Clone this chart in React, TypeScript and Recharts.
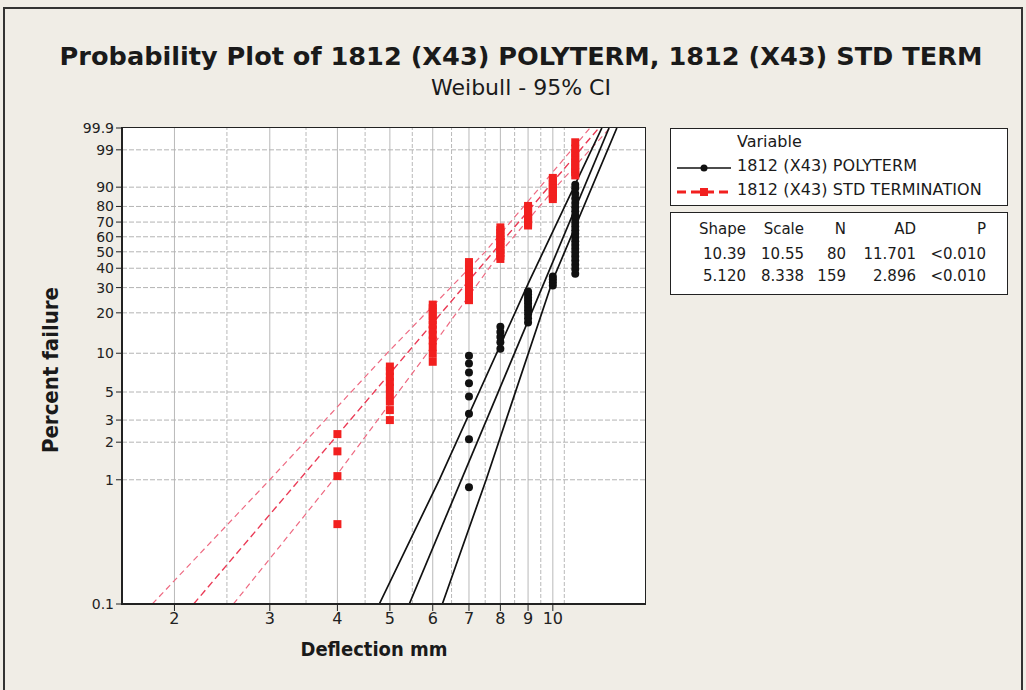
import React from 'react';
import { ComposedChart, Line, Scatter, XAxis, YAxis, ReferenceLine } from 'recharts';

// percent failure -> position on the Weibull probability axis
const weib = (p: number) => Math.log(-Math.log(1 - p / 100));

const yTicks = [0.1, 1, 2, 3, 5, 10, 20, 30, 40, 50, 60, 70, 80, 90, 99, 99.9];
const yGrid = [1, 2, 3, 5, 10, 20, 30, 40, 50, 60, 70, 80, 90, 99];
const xTicks = [2, 3, 4, 5, 6, 7, 8, 9, 10];
const xGrid = [2, 2.5, 3, 3.5, 4, 4.5, 5, 5.5, 6, 6.5, 7, 7.5, 8, 8.5, 9, 9.5, 10, 10.5];

// 1812 (X43) STD TERMINATION, percent failure at each deflection (mm)
const std4 = [0.44, 1.07, 1.69, 2.32];
const std5 = [3.0, 3.6, 4.2, 4.8, 5.4, 6.0, 6.6, 7.3, 7.9];
const std6 = [8.6, 9.9, 11.2, 12.5, 13.8, 15.1, 16.4, 17.7, 19.0, 20.3, 21.6, 22.9];
const std7 = [24.6, 26.5, 28.4, 30.3, 32.2, 34.1, 36.0, 37.9, 39.8, 41.7, 43.6];
const std8 = [45.5, 47.4, 49.3, 51.2, 53.1, 55.0, 56.9, 58.8, 60.7, 62.6, 64.5, 66.4];
const std9 = [67.7, 69.0, 70.3, 71.5, 72.8, 74.1, 75.3, 76.6, 77.8, 79.1, 80.3];
const std10 = [84.2, 85.5, 86.8, 88.0, 89.2, 90.3, 91.4, 92.5, 93.5];
const std11 = [94.3, 95.2, 96.1, 96.9, 97.6, 98.2, 98.7, 99.1, 99.5];

// 1812 (X43) POLYTERM
const poly7 = [0.87, 2.11, 3.36, 4.6, 5.85, 7.09, 8.33, 9.58];
const poly8 = [10.8, 12.1, 13.3, 14.5, 15.8];
const poly9 = [17.0, 18.3, 19.5, 20.8, 22.0, 23.3, 24.5, 25.7, 27.0, 28.2];
const poly10 = [31.0, 32.5, 34.0, 35.5];
const poly11 = [37, 39.5, 42, 44.5, 47, 49.5, 52, 54.5, 57, 59.5, 62, 64.5, 67, 69.5, 72, 74.5, 77, 79.5, 82, 84.5, 87, 89.5, 91];

// fitted lines and 95% CI bounds
const fitPct = [0.1, 99.9];
const polyFitX = [5.43, 12.7];
const stdFitX = [2.17, 12.16];
const polyCiPct = [0.1, 1, 33.7, 99.9];
const polyCiLowX = [4.78, 6.17, 9.07, 12.32];
const polyCiHighX = [6.25, 7.53, 10.0, 13.13];
const stdCiPct = [0.1, 1, 10, 50, 90, 99.9];
const stdCiLowX = [1.82, 3.0, 4.94, 7.5, 9.47, 11.71];
const stdCiHighX = [2.57, 3.93, 5.86, 8.02, 10.13, 12.75];

const column = (x: number, pcts: number[]) => pcts.map((p) => ({ x, y: weib(p) }));
const curve = (xs: number[], pcts: number[]) => xs.map((x, i) => ({ x, y: weib(pcts[i]) }));

const stdPoints = [
  ...column(4, std4), ...column(5, std5), ...column(6, std6), ...column(7, std7),
  ...column(8, std8), ...column(9, std9), ...column(10, std10), ...column(11, std11),
];
const polyPoints = [
  ...column(7, poly7), ...column(8, poly8), ...column(9, poly9), ...column(10, poly10), ...column(11, poly11),
];

const FONT = "'DejaVu Sans', Tahoma, sans-serif";
const BOLD_NARROW = "'DejaVu Sans Condensed', 'DejaVu Sans', sans-serif";
const RED = '#f2201f';

const yLabel = (v: number) => {
  const hit = yTicks.find((p) => Math.abs(weib(p) - v) < 1e-6);
  return hit === undefined ? '' : String(hit);
};

const StdSquare = (props: any) => (
  <rect x={props.cx - 4} y={props.cy - 4} width={8} height={8} fill={RED} />
);
const PolyDot = (props: any) => <circle cx={props.cx} cy={props.cy} r={4} fill="#111" />;

const cell = (end: number, top: number, text: string) => (
  <div
    key={`${end}-${top}`}
    style={{ position: 'absolute', left: end - 110, top, width: 110, textAlign: 'right' }}
  >
    {text}
  </div>
);

export default function App() {
  return (
    <div
      style={{
        position: 'absolute', left: 0, top: 0, width: 1026, height: 690, overflow: 'hidden',
        background: '#f0ede6', fontFamily: FONT, color: '#1a1a1a',
      }}
    >
      <div style={{ position: 'absolute', left: 3, top: 7, width: 1016, height: 700, border: '2px solid #333' }} />

      <div style={{ position: 'absolute', left: 0, top: 41, width: 1042, textAlign: 'center', fontSize: 25.6, fontWeight: 'bold' }}>
        Probability Plot of 1812 (X43) POLYTERM, 1812 (X43) STD TERM
      </div>
      <div style={{ position: 'absolute', left: 0, top: 75, width: 1042, textAlign: 'center', fontSize: 22 }}>
        Weibull - 95% CI
      </div>

      {/* plot area background and frame */}
      <div style={{ position: 'absolute', left: 121, top: 127, width: 523, height: 476, background: '#fff', border: '1.5px solid #222' }} />

      <div style={{ position: 'absolute', left: 0, top: 0 }}>
        <ComposedChart width={1026} height={690} margin={{ top: 128, right: 381, bottom: 56, left: 72 }}>
          <XAxis
            dataKey="x" type="number" scale="log" domain={[1.6, 14.8]} allowDataOverflow
            ticks={xTicks} interval={0} height={30}
            axisLine={{ stroke: '#222', strokeWidth: 2 }} tickLine={{ stroke: '#222' }} tickSize={7}
            tick={{ fontSize: 16, fill: '#222', fontFamily: FONT }}
          />
          <YAxis
            dataKey="y" type="number" domain={[weib(0.1), weib(99.9)]} allowDataOverflow
            ticks={yTicks.map(weib)} interval={0} width={50} tickFormatter={yLabel}
            axisLine={{ stroke: '#222', strokeWidth: 2 }} tickLine={{ stroke: '#222' }} tickSize={6}
            tick={{ fontSize: 14, fill: '#222', fontFamily: FONT }}
          />
          {xGrid.map((x) => (
            <ReferenceLine key={`gx${x}`} x={x} stroke="#b9b9b9" strokeDasharray={Number.isInteger(x) ? undefined : '4 2'} />
          ))}
          {yGrid.map((p) => (
            <ReferenceLine key={`gy${p}`} y={weib(p)} stroke="#b4b4b4" strokeDasharray="5 2" />
          ))}

          <Scatter data={polyPoints} shape={PolyDot} isAnimationActive={false} />
          <Scatter data={stdPoints} shape={StdSquare} isAnimationActive={false} />

          <Line data={curve(stdCiLowX, stdCiPct)} dataKey="y" dot={false} stroke="#ee6a82" strokeWidth={1.2} strokeDasharray="6 4" isAnimationActive={false} />
          <Line data={curve(stdCiHighX, stdCiPct)} dataKey="y" dot={false} stroke="#ee6a82" strokeWidth={1.2} strokeDasharray="6 4" isAnimationActive={false} />
          <Line data={curve(stdFitX, fitPct)} dataKey="y" dot={false} stroke="#ea3a55" strokeWidth={1.4} strokeDasharray="7 4" isAnimationActive={false} />

          <Line data={curve(polyCiLowX, polyCiPct)} dataKey="y" dot={false} stroke="#111" strokeWidth={1.7} isAnimationActive={false} />
          <Line data={curve(polyCiHighX, polyCiPct)} dataKey="y" dot={false} stroke="#111" strokeWidth={1.7} isAnimationActive={false} />
          <Line data={curve(polyFitX, fitPct)} dataKey="y" dot={false} stroke="#111" strokeWidth={1.7} isAnimationActive={false} />
        </ComposedChart>
      </div>

      <div style={{ position: 'absolute', left: 244, top: 637, width: 260, textAlign: 'center', fontSize: 20, fontWeight: 'bold', fontFamily: BOLD_NARROW }}>
        Deflection mm
      </div>
      <div
        style={{
          position: 'absolute', left: 50, top: 370, width: 220, textAlign: 'center', fontSize: 22,
          fontWeight: 'bold', fontFamily: BOLD_NARROW, transform: 'translate(-50%, -50%) rotate(-90deg)',
        }}
      >
        Percent failure
      </div>

      {/* legend */}
      <div style={{ position: 'absolute', left: 670, top: 128, width: 336, height: 76, background: '#fff', border: '1.5px solid #222', fontSize: 16 }}>
        <div style={{ position: 'absolute', left: 66, top: 3 }}>Variable</div>
        <svg style={{ position: 'absolute', left: 4, top: 27 }} width={58} height={24}>
          <line x1={2} y1={12} x2={56} y2={12} stroke="#111" strokeWidth={1.7} />
          <circle cx={29} cy={12} r={3.5} fill="#111" />
        </svg>
        <div style={{ position: 'absolute', left: 66, top: 27, letterSpacing: 0.1 }}>1812 (X43) POLYTERM</div>
        <svg style={{ position: 'absolute', left: 4, top: 51 }} width={58} height={24}>
          <line x1={2} y1={12} x2={56} y2={12} stroke={RED} strokeWidth={3} strokeDasharray="9 5" />
          <rect x={25} y={8} width={8} height={8} fill={RED} />
        </svg>
        <div style={{ position: 'absolute', left: 66, top: 51, letterSpacing: 0.1 }}>1812 (X43) STD TERMINATION</div>
      </div>

      <div style={{ position: 'absolute', left: 670, top: 212, width: 336, height: 81, background: '#fff', border: '1.5px solid #222', fontSize: 15 }}>
        {cell(75, 7, 'Shape')}{cell(133, 7, 'Scale')}{cell(175, 7, 'N')}{cell(245, 7, 'AD')}{cell(315, 7, 'P')}
        {cell(75, 32, '10.39')}{cell(133, 32, '10.55')}{cell(175, 32, '80')}{cell(245, 32, '11.701')}{cell(315, 32, '<0.010')}
        {cell(75, 54, '5.120')}{cell(133, 54, '8.338')}{cell(175, 54, '159')}{cell(245, 54, '2.896')}{cell(315, 54, '<0.010')}
      </div>
    </div>
  );
}
